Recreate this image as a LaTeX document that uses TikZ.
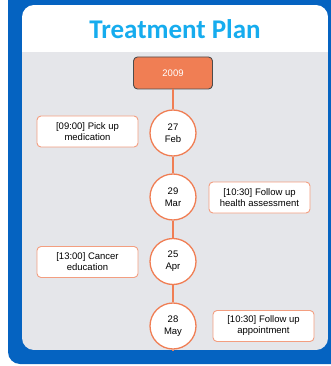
\documentclass[tikz,border=0pt]{standalone}
\usepackage{fontspec}
\setmainfont{Liberation Sans}
\newfontfamily\titlefont{Carlito}
\usepackage{tikz}
\usetikzlibrary{calc}
\definecolor{planblue}{RGB}{5,99,193}
\definecolor{titleblue}{RGB}{22,172,238}
\definecolor{panelgray}{RGB}{229,230,234}
\definecolor{dayorange}{RGB}{240,126,84}
\definecolor{noteorange}{RGB}{243,158,128}
\tikzset{
	daynode/.style={circle, draw=dayorange, line width=1.3pt, fill=white, minimum size=46pt, inner sep=0pt, align=center, font=\fontsize{9.5}{12}\selectfont},
	notenode/.style={rectangle, rounded corners=4pt, draw=noteorange, line width=0.9pt, fill=white, minimum width=101pt, minimum height=31pt, inner sep=1pt, align=center, font=\fontsize{9.5}{11}\selectfont}
}

\begin{document}
\begin{tikzpicture}[x=1pt, y=-1pt]
		%%%%% START %%%%%
		
		\useasboundingbox (0, 0) rectangle (331, 366);
		\clip (0, 0) rectangle (331, 366);
		
		\fill[planblue, rounded corners=12pt] (8, -20) rectangle (350, 364);
		
		\begin{scope}
			\clip[rounded corners=12pt] (22, 5) rectangle (328, 350);
			\fill[white] (22, 5) rectangle (328, 52);
			\fill[panelgray] (22, 52) rectangle (328, 350);
		\end{scope}
		
		\node[anchor=base, text=titleblue, font=\titlefont\bfseries\fontsize{27}{31}\selectfont] (title) at (175, 38.5) {Treatment Plan};
		
		\node[rectangle, rounded corners=4pt, draw=black!70, line width=0.9pt, fill=dayorange, text=white, minimum width=79pt, minimum height=32pt, font=\fontsize{9.5}{11}\selectfont] (year) at (173, 73) {2009};
		
		\node[daynode] (feb) at (173, 133) {27\\Feb};
		\node[daynode] (mar) at (173, 197) {29\\Mar};
		\node[daynode] (apr) at (173, 261.5) {25\\Apr};
		\node[daynode] (may) at (173, 326) {28\\May};
		\coordinate (tail) at (173, 350);
		
		\draw[dayorange, line width=1.3pt] (year) -- (feb) -- (mar) -- (apr) -- (may) -- (tail);
		
		\node[notenode] (pickup) at (87.5, 131.5) {[09:00] Pick up\\medication};
		\node[notenode] (health) at (259.5, 197.5) {[10:30] Follow up\\health assessment};
		\node[notenode] (cancer) at (87.5, 262) {[13:00] Cancer\\education};
		\node[notenode] (appoint) at (263.5, 326) {[10:30] Follow up\\appointment};
		
		%%%%% END %%%%%
	\end{tikzpicture}
\end{document}
